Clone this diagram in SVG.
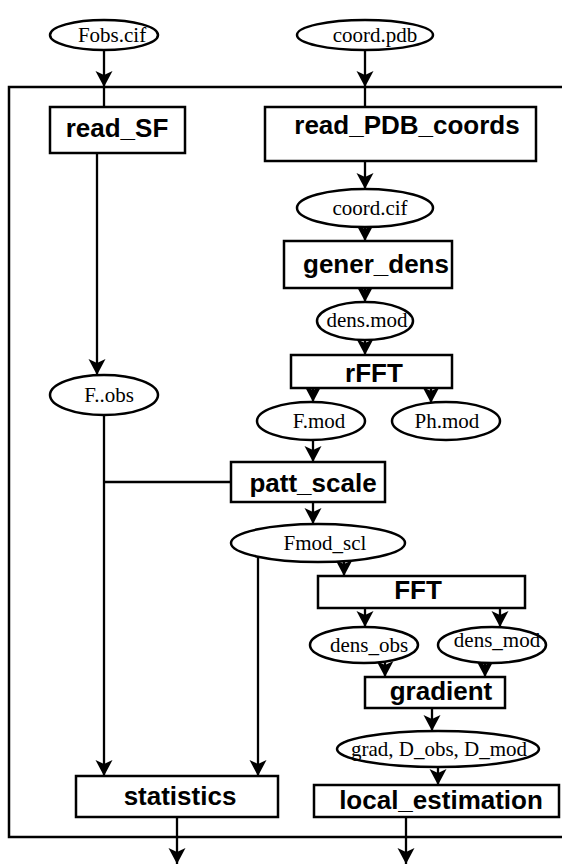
<svg xmlns="http://www.w3.org/2000/svg" width="562" height="864" viewBox="0 0 562 864">
<style>
.box{fill:#fff;stroke:#000;stroke-width:2.5}
.ell{fill:#fff;stroke:#000;stroke-width:2.5}
.frame{fill:none;stroke:#000;stroke-width:2.5}
.ln{fill:none;stroke:#000;stroke-width:2.3}
.arr{fill:none;stroke:#000;stroke-width:2.3;marker-end:url(#ah)}
.bt{font-family:"Liberation Sans",Arial,sans-serif;font-weight:bold;font-size:26px;text-anchor:middle;fill:#000}
.st{font-family:"Liberation Serif","Times New Roman",serif;font-size:21px;text-anchor:middle;fill:#000}
</style>
<defs>
<marker id="ah" markerUnits="userSpaceOnUse" markerWidth="18" markerHeight="18" refX="16" refY="8.5" orient="auto" viewBox="0 0 18 18">
<path d="M0,0 L16,8.5 L0,17 L4,8.5 Z" fill="#000"/>
</marker>
</defs>
<rect id="frame" class="frame" x="9" y="87" width="600" height="750"/>
<g id="connectors">
<path class="arr" d="M104,50 V87"/>
<path class="ln" d="M104,87 V107"/>
<path class="arr" d="M365,50 V87"/>
<path class="ln" d="M365,87 V107"/>
<path class="arr" d="M97,153 V375"/>
<path class="arr" d="M365,161 V189"/>
<path class="arr" d="M365,227 V241"/>
<path class="arr" d="M365,288 V302"/>
<path class="arr" d="M365,340 V355"/>
<path class="arr" d="M313,388 V402"/>
<path class="arr" d="M431,388 V403"/>
<path class="arr" d="M313,440 V462"/>
<path class="arr" d="M104,415 V776"/>
<path class="ln" d="M104,482 H231"/>
<path class="arr" d="M313,502 V524"/>
<path class="arr" d="M258,555 V776"/>
<path class="arr" d="M344,562 V576"/>
<path class="arr" d="M365,608 V627"/>
<path class="arr" d="M500,608 V627"/>
<path class="arr" d="M385,662 V677"/>
<path class="arr" d="M485,662 V677"/>
<path class="arr" d="M432,708 V731"/>
<path class="arr" d="M438,767 V785"/>
<path class="arr" d="M177,817 V864"/>
<path class="arr" d="M406,817 V864"/>
</g>
<g id="n_fobs_cif"><ellipse class="ell" cx="104" cy="35" rx="54" ry="15"/><text class="st" x="112" y="42">Fobs.cif</text></g>
<g id="n_coord_pdb"><ellipse class="ell" cx="365" cy="35" rx="68" ry="15"/><text class="st" x="375" y="42">coord.pdb</text></g>
<g id="n_read_sf"><rect class="box" x="50" y="107" width="135" height="46"/><text class="bt" x="117" y="137">read_SF</text></g>
<g id="n_read_pdb"><rect class="box" x="265" y="107" width="271" height="54"/><text class="bt" x="407" y="134">read_PDB_coords</text></g>
<g id="n_coord_cif"><ellipse class="ell" cx="365" cy="208" rx="68" ry="19"/><text class="st" x="370" y="215">coord.cif</text></g>
<g id="n_gener_dens"><rect class="box" x="284" y="241" width="168" height="47"/><text class="bt" x="376" y="273">gener_dens</text></g>
<g id="n_dens_mod_file"><ellipse class="ell" cx="365" cy="321" rx="48" ry="19"/><text class="st" x="367" y="327">dens.mod</text></g>
<g id="n_rfft"><rect class="box" x="291" y="355" width="161" height="33"/><text class="bt" x="374" y="382">rFFT</text></g>
<g id="n_f_obs"><ellipse class="ell" cx="104" cy="395" rx="54" ry="20"/><text class="st" x="109" y="402">F..obs</text></g>
<g id="n_f_mod"><ellipse class="ell" cx="311" cy="421" rx="54" ry="19"/><text class="st" x="319" y="428">F.mod</text></g>
<g id="n_ph_mod"><ellipse class="ell" cx="446" cy="421" rx="54" ry="19"/><text class="st" x="447" y="428">Ph.mod</text></g>
<g id="n_patt_scale"><rect class="box" x="231" y="462" width="154" height="40"/><text class="bt" x="313" y="492">patt_scale</text></g>
<g id="n_fmod_scl"><ellipse class="ell" cx="318" cy="543" rx="87" ry="19"/><text class="st" x="325" y="550">Fmod_scl</text></g>
<g id="n_fft"><rect class="box" x="318" y="576" width="207" height="32"/><text class="bt" x="418" y="599">FFT</text></g>
<g id="n_dens_obs"><ellipse class="ell" cx="364" cy="645" rx="54" ry="18"/><text class="st" x="369" y="652">dens_obs</text></g>
<g id="n_dens_mod"><ellipse class="ell" cx="492" cy="645" rx="54" ry="18"/><text class="st" x="497" y="647">dens_mod</text></g>
<g id="n_gradient"><rect class="box" x="365" y="677" width="140" height="31"/><text class="bt" x="441" y="700">gradient</text></g>
<g id="n_grad"><ellipse class="ell" cx="438" cy="749" rx="101" ry="18"/><text class="st" x="439" y="756">grad, D_obs, D_mod</text></g>
<g id="n_statistics"><rect class="box" x="76" y="776" width="202" height="41"/><text class="bt" x="180" y="805">statistics</text></g>
<g id="n_local_estimation"><rect class="box" x="314" y="785" width="245" height="32"/><text class="bt" x="441" y="809">local_estimation</text></g>
</svg>
